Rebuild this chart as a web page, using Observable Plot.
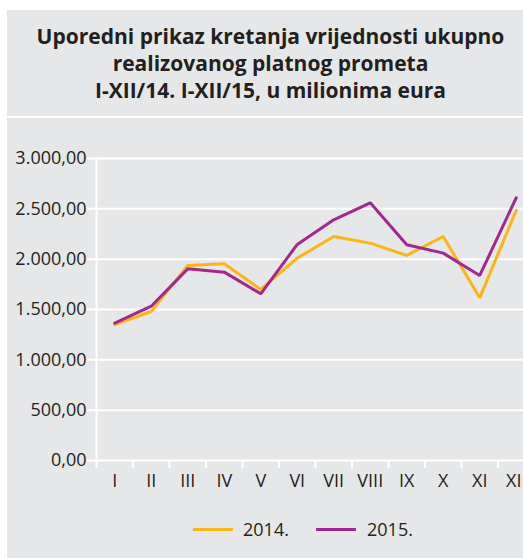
<!DOCTYPE html>
<html>
<head>
<meta charset="utf-8">
<script src="https://cdn.jsdelivr.net/npm/d3@7"></script>
<script src="https://cdn.jsdelivr.net/npm/@observablehq/plot@0.6"></script>
<style>
  html, body { margin: 0; padding: 0; background: #ffffff; }
  body { width: 523px; height: 558px; overflow: hidden; position: relative; font-family: "Open Sans", sans-serif; color: #231f20; }
  #title { position: absolute; left: 7px; top: 10px; width: 516px; height: 106px; background: #e6e7e8;
           text-align: center; font-weight: bold; font-size: 21px; line-height: 27px; box-sizing: border-box; padding-top: 13px; padding-left: 11px; }
  #panel { position: absolute; left: 7px; top: 118px; width: 516px; height: 440px; background: #e6e7e8; }
  #chart { position: absolute; left: 0; top: 118px; width: 523px; height: 382px; overflow: hidden; }
  #legend { position: absolute; top: 516px; left: 0; width: 523px; height: 28px; font-size: 18px; }
  .sw { position: absolute; top: 12px; width: 40px; height: 3px; }
  .lb { position: absolute; top: 0; line-height: 26px; }
</style>
</head>
<body>
<div id="title">Uporedni prikaz kretanja vrijednosti ukupno<br>realizovanog platnog prometa<br>I-XII/14. I-XII/15, u milionima eura</div>
<div id="panel"></div>
<div id="chart"></div>
<div id="legend"></div>
<script>
const months = ["I","II","III","IV","V","VI","VII","VIII","IX","X","XI","XII"];
const v2014 = [1350, 1480, 1937, 1954, 1699, 2010, 2225, 2159, 2037, 2225, 1616, 2484];
const v2015 = [1364, 1533, 1904, 1871, 1656, 2146, 2391, 2560, 2143, 2060, 1838, 2610];
const seriesNames = ["2014.", "2015."];
const seriesColors = ["#fbb614", "#a2288f"];
const yTicks = [0, 500, 1000, 1500, 2000, 2500, 3000];

const fmt = d3.formatLocale({decimal: ",", thousands: ".", grouping: [3], currency: ["", ""]}).format(",.2f");

const data = months.flatMap((m, i) => [
  {i, m, year: seriesNames[0], v: v2014[i]},
  {i, m, year: seriesNames[1], v: v2015[i]}
]);

const chart = Plot.plot({
  width: 534,
  height: 382,
  marginLeft: 96,
  marginRight: 0,
  marginTop: 40,
  marginBottom: 40,
  style: {background: "transparent", fontFamily: "'Open Sans', sans-serif", fontSize: "18px", color: "#231f20", overflow: "visible", maxWidth: "none"},
  x: {domain: [0, months.length], axis: null},
  y: {domain: [0, 3000], axis: null},
  color: {domain: seriesNames, range: seriesColors},
  marks: [
    Plot.ruleY(yTicks, {x1: () => 0, x2: () => months.length, stroke: "white", strokeWidth: 2, insetLeft: -9, insetRight: -20}),
    Plot.ruleX([0], {y1: () => 3000, y2: () => 0, insetBottom: -8, stroke: "white", strokeWidth: 2}),
    Plot.ruleX(d3.range(1, months.length + 1), {y1: () => 0, y2: () => 0, insetBottom: -8, stroke: "white", strokeWidth: 2}),
    Plot.text(yTicks, {x: () => 0, y: d => d, text: d => fmt(d), textAnchor: "end", dx: -10, fill: "#231f20"}),
    Plot.text(months, {x: (d, i) => i + 0.5, y: () => 0, text: d => d, dy: 21, fill: "#231f20"}),
    Plot.line(data, {x: d => d.i + 0.5, y: "v", stroke: "year", strokeWidth: 3, strokeLinejoin: "miter"})
  ]
});
document.getElementById("chart").appendChild(chart);

const legend = document.getElementById("legend");
const swX = [193, 316];
const lbX = [243, 367];
seriesNames.forEach((name, k) => {
  const s = document.createElement("div");
  s.className = "sw"; s.style.left = swX[k] + "px"; s.style.background = seriesColors[k];
  const l = document.createElement("div");
  l.className = "lb"; l.style.left = lbX[k] + "px"; l.textContent = name;
  legend.appendChild(s); legend.appendChild(l);
});
</script>
</body>
</html>
